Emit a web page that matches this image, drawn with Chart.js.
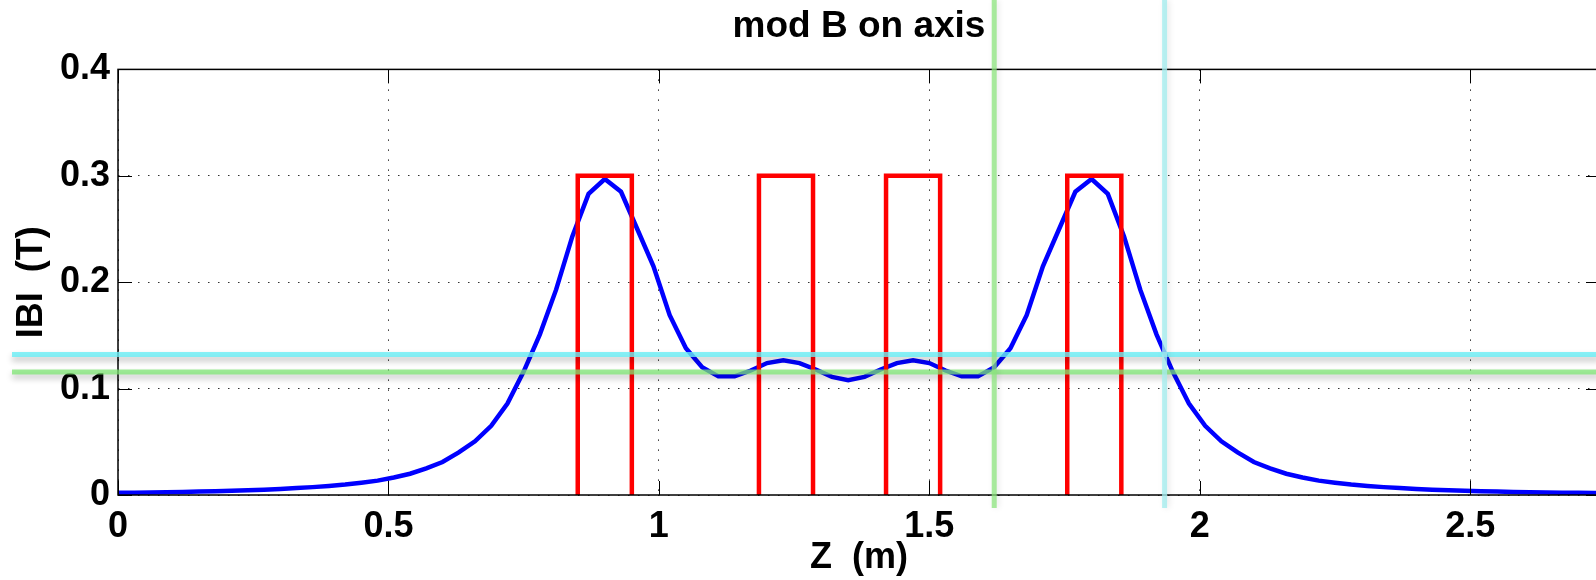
<!DOCTYPE html>
<html>
<head>
<meta charset="utf-8">
<title>mod B on axis</title>
<script src="https://cdn.jsdelivr.net/npm/chart.js@4.4.1/dist/chart.umd.min.js"></script>
<style>
    html, body { margin: 0; padding: 0; background: #fff; overflow: hidden; }
    #wrap { width: 1600px; height: 580px; }
</style>
</head>
<body>
<div id="wrap"><canvas id="bChart"></canvas></div>
<script>
// position along the axis (m)
var zPos = [0.00, 0.03, 0.06, 0.09, 0.12, 0.15, 0.18, 0.21, 0.24, 0.27,
    0.30, 0.33, 0.36, 0.39, 0.42, 0.45, 0.48, 0.51, 0.54, 0.57,
    0.60, 0.63, 0.66, 0.69, 0.72, 0.75, 0.78, 0.81, 0.84, 0.87,
    0.90, 0.93, 0.96, 0.99, 1.02, 1.05, 1.08, 1.11, 1.14, 1.17,
    1.20, 1.23, 1.26, 1.29, 1.32, 1.35, 1.38, 1.41, 1.44, 1.47,
    1.50, 1.53, 1.56, 1.59, 1.62, 1.65, 1.68, 1.71, 1.74, 1.77,
    1.80, 1.83, 1.86, 1.89, 1.92, 1.95, 1.98, 2.01, 2.04, 2.07,
    2.10, 2.13, 2.16, 2.19, 2.22, 2.25, 2.28, 2.31, 2.34, 2.37,
    2.40, 2.43, 2.46, 2.49, 2.52, 2.55, 2.58, 2.61, 2.64, 2.67,
    2.70, 2.73, 2.76];

// |B| on axis (T)
var modB = [0.0020, 0.0022, 0.0024, 0.0026, 0.0029, 0.0032, 0.0036, 0.0040, 0.0045, 0.0050,
    0.0057, 0.0065, 0.0074, 0.0085, 0.0098, 0.0115, 0.0135, 0.0165, 0.0200, 0.0250,
    0.0310, 0.0400, 0.0505, 0.0650, 0.0860, 0.1160, 0.1510, 0.1930, 0.2430, 0.2830,
    0.2970, 0.2850, 0.2500, 0.2150, 0.1690, 0.1380, 0.1200, 0.1115, 0.1115, 0.1170,
    0.1240, 0.1265, 0.1240, 0.1180, 0.1110, 0.1080, 0.1110, 0.1180, 0.1240, 0.1265,
    0.1240, 0.1170, 0.1115, 0.1115, 0.1200, 0.1380, 0.1690, 0.2150, 0.2500, 0.2850,
    0.2970, 0.2830, 0.2430, 0.1930, 0.1510, 0.1160, 0.0860, 0.0650, 0.0505, 0.0400,
    0.0310, 0.0250, 0.0200, 0.0165, 0.0135, 0.0115, 0.0098, 0.0085, 0.0074, 0.0065,
    0.0057, 0.0050, 0.0045, 0.0040, 0.0036, 0.0032, 0.0029, 0.0026, 0.0024, 0.0022,
    0.0020, 0.0018, 0.0017];

// coils (red boxes)
var coilStart = [0.85, 1.185, 1.42, 1.755];
var coilEnd = [0.95, 1.285, 1.52, 1.855];
var coilTop = [0.3, 0.3, 0.3, 0.3];

var xTicks = [0, 0.5, 1, 1.5, 2, 2.5];
var yTicks = [0, 0.1, 0.2, 0.3, 0.4];

// guide lines drawn over the plot: [green, cyan]
var guideZ = [1.62, 1.935];
var guideB = [0.1155, 0.132];

var fontFamily = "'Liberation Sans', Arial, Helvetica, sans-serif";
var bigFont = { family: fontFamily, size: 36, weight: 'bold', lineHeight: 1.2 };
var titleFont = { family: fontFamily, size: 37, weight: 'bold', lineHeight: 1.2 };

// matlab style box with ticks pointing inwards
var boxPlugin = {
    id: 'boxPlugin',
    afterDatasetsDraw: function (chart) {
        var ctx = chart.ctx;
        var a = chart.chartArea;
        var xs = chart.scales.x;
        var ys = chart.scales.y;
        var tl = 14;
        ctx.save();
        ctx.strokeStyle = '#000';
        ctx.lineWidth = 1.5;
        ctx.strokeRect(a.left, a.top, a.right - a.left, a.bottom - a.top);
        ctx.lineWidth = 1;
        ctx.beginPath();
        xTicks.forEach(function (v) {
            var px = Math.round(xs.getPixelForValue(v)) + 0.5;
            ctx.moveTo(px, a.bottom); ctx.lineTo(px, a.bottom - tl);
            ctx.moveTo(px, a.top); ctx.lineTo(px, a.top + tl);
        });
        yTicks.forEach(function (v) {
            var py = Math.round(ys.getPixelForValue(v)) + 0.5;
            ctx.moveTo(a.left, py); ctx.lineTo(a.left + tl, py);
            ctx.moveTo(a.right, py); ctx.lineTo(a.right - tl, py);
        });
        ctx.stroke();
        ctx.restore();
    }
};

// the green / cyan guides that stick out of the axes
var guidePlugin = {
    id: 'guidePlugin',
    afterDraw: function (chart) {
        var ctx = chart.ctx;
        var xs = chart.scales.x;
        var ys = chart.scales.y;
        var hColors = ['rgba(125,228,115,0.75)', 'rgba(105,238,245,0.8)'];
        var vColors = ['rgba(140,228,125,0.75)', 'rgba(165,236,238,0.8)'];
        ctx.save();
        ctx.lineWidth = 5;
        ctx.shadowColor = 'rgba(0,0,0,0.3)';
        ctx.shadowBlur = 6;
        ctx.shadowOffsetY = 4;
        guideB.forEach(function (v, i) {
            var py = ys.getPixelForValue(v);
            ctx.strokeStyle = hColors[i];
            ctx.beginPath();
            ctx.moveTo(12, py);
            ctx.lineTo(chart.width, py);
            ctx.stroke();
        });
        ctx.shadowOffsetY = 0;
        ctx.shadowOffsetX = 2;
        ctx.shadowColor = 'rgba(0,0,0,0.12)';
        guideZ.forEach(function (v, i) {
            var px = xs.getPixelForValue(v);
            ctx.strokeStyle = vColors[i];
            ctx.beginPath();
            ctx.moveTo(px, 0);
            ctx.lineTo(px, 508);
            ctx.stroke();
        });
        ctx.restore();
    }
};

var datasets = [{
    label: 'mod B',
    data: zPos.map(function (z, i) { return { x: z, y: modB[i] }; }),
    borderColor: '#0000ff',
    borderWidth: 4.5,
    pointRadius: 0,
    tension: 0,
    order: 2
}];

for (var i = 0; i < coilStart.length; i++) {
    datasets.push({
        label: 'coil ' + (i + 1),
        data: [
            { x: coilStart[i], y: 0 },
            { x: coilStart[i], y: coilTop[i] },
            { x: coilEnd[i], y: coilTop[i] },
            { x: coilEnd[i], y: 0 }
        ],
        borderColor: '#ff0000',
        borderWidth: 4.5,
        borderJoinStyle: 'miter',
        pointRadius: 0,
        tension: 0,
        order: 1
    });
}

new Chart(document.getElementById('bChart'), {
    type: 'line',
    data: { datasets: datasets },
    plugins: [boxPlugin, guidePlugin],
    options: {
        responsive: true,
        maintainAspectRatio: false,
        animation: false,
        layout: { padding: 0 },
        plugins: {
            legend: { display: false },
            tooltip: { enabled: false },
            title: {
                display: true,
                text: 'mod B on axis',
                fullSize: false,
                color: '#000',
                font: titleFont,
                padding: { top: 5, bottom: 20 }
            }
        },
        scales: {
            x: {
                type: 'linear',
                position: 'bottom',
                min: 0,
                max: 2.74,
                afterBuildTicks: function (s) { s.ticks = xTicks.map(function (v) { return { value: v }; }); },
                afterFit: function (s) { s.height = 85; },
                ticks: {
                    color: '#000',
                    font: bigFont,
                    padding: 10,
                    maxRotation: 0,
                    autoSkip: false,
                    callback: function (v) { return String(v); }
                },
                grid: { color: '#333', lineWidth: 1, drawTicks: false },
                border: { display: false, dash: [1.5, 8.5] },
                title: { display: true, text: 'Z  (m)', color: '#000', font: bigFont, padding: 0 }
            },
            y: {
                type: 'linear',
                min: 0,
                max: 0.4,
                afterBuildTicks: function (s) { s.ticks = yTicks.map(function (v) { return { value: v }; }); },
                afterFit: function (s) { s.width = 118; },
                ticks: {
                    color: '#000',
                    font: bigFont,
                    padding: 8,
                    autoSkip: false,
                    callback: function (v) { return String(v); }
                },
                grid: { color: '#333', lineWidth: 1, drawTicks: false },
                border: { display: false, dash: [1.5, 8.5] },
                title: { display: true, text: 'IBI  (T)', color: '#000', font: bigFont, padding: { top: 10, bottom: 0 } }
            }
        }
    }
});
</script>
</body>
</html>
